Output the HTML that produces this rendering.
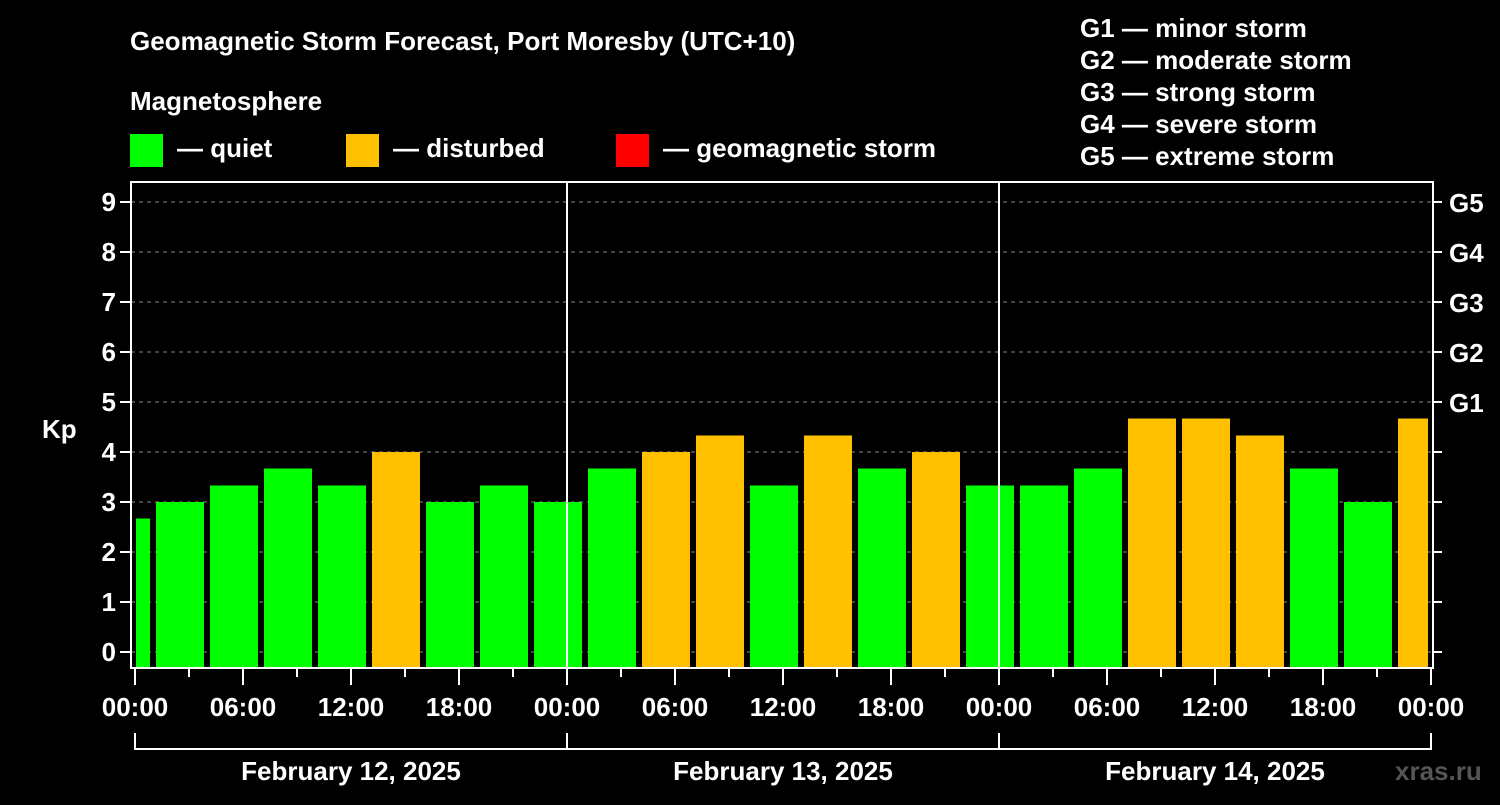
<!DOCTYPE html>
<html><head><meta charset="utf-8"><style>
body{margin:0;background:#000;}
svg text{font-family:"Liberation Sans",Arial,sans-serif;font-weight:bold;fill:#fff;}
</style></head><body>
<svg id="chart" width="1500" height="800" xmlns="http://www.w3.org/2000/svg">
<rect width="1500" height="800" fill="#000"/>
<text x="130" y="50" font-size="26">Geomagnetic Storm Forecast, Port Moresby (UTC+10)</text>
<text x="130" y="110" font-size="26">Magnetosphere</text>
<g>
<rect x="130" y="134" width="33" height="33" fill="#00ff00"/>
<text x="177" y="157" font-size="26">— quiet</text>
<rect x="346" y="134" width="33" height="33" fill="#ffc000"/>
<text x="393" y="157" font-size="26">— disturbed</text>
<rect x="616" y="134" width="33" height="33" fill="#ff0000"/>
<text x="663" y="157" font-size="26">— geomagnetic storm</text>
</g>
<g font-size="26">
<text x="1080" y="37">G1 — minor storm</text>
<text x="1080" y="69">G2 — moderate storm</text>
<text x="1080" y="101">G3 — strong storm</text>
<text x="1080" y="133">G4 — severe storm</text>
<text x="1080" y="165">G5 — extreme storm</text>
</g>
<text x="42" y="438" font-size="26">Kp</text>
<text x="1395" y="780" font-size="26" style="fill:#555">xras.ru</text>
<g id="grid"></g><g id="bars"></g><g id="axes"></g>
</svg>
<script>
const values=[2.67,3,3.33,3.67,3.33,4,3,3.33,3,3.67,4,4.33,3.33,4.33,3.67,4,3.33,3.33,3.67,4.67,4.67,4.33,3.67,3,4.67];
const yTicks=[0,1,2,3,4,5,6,7,8,9];
const gLabels=["G1","G2","G3","G4","G5"];
const xLabels=["00:00","06:00","12:00","18:00","00:00","06:00","12:00","18:00","00:00","06:00","12:00","18:00","00:00"];
const dates=["February 12, 2025","February 13, 2025","February 14, 2025"];
const NS="http://www.w3.org/2000/svg";
const X0=135,PX_H=18,L=131,R=1433,T=182,B=668;
const y=v=>652-v*50, x=h=>X0+h*PX_H;
function mk(tag,attrs,parent){const e=document.createElementNS(NS,tag);for(const k in attrs)e.setAttribute(k,attrs[k]);parent.appendChild(e);return e;}
const grid=document.getElementById('grid'),bars=document.getElementById('bars'),axes=document.getElementById('axes');
yTicks.forEach(v=>{
 const g=mk('line',{x1:L,x2:R,y1:y(v),y2:y(v),stroke:'#888','stroke-dasharray':'4,4','stroke-width':1},grid);
 
 
 const t=mk('line',{x1:120,x2:L,y1:y(v),y2:y(v),stroke:'#fff','stroke-width':2},axes);
 
 
 const l=mk('text',{x:116,y:y(v)+9,'font-size':26,'text-anchor':'end'},axes);l.textContent=v;
 
 
 const rt=mk('line',{x1:R,x2:1442,y1:y(v),y2:y(v),stroke:'#fff','stroke-width':2},axes);
 
 
 if(v>=5){const gl=mk('text',{x:1449,y:y(v)+10,'font-size':26},axes);gl.textContent=gLabels[v-5];
 
 }
});
values.forEach((v,i)=>{
 let s=x(-2+i*3)+3,e=x(1+i*3)-3;
 s=Math.max(s,X0+1);e=Math.min(e,x(72)-3);
 const r=mk('rect',{x:s,y:y(v),width:e-s,height:B-1-y(v),fill:v>=4?'#ffc000':'#00ff00'},bars);
 
 
});
[24,48].forEach(h=>{const l=mk('line',{x1:x(h),x2:x(h),y1:T,y2:B,stroke:'#fff','stroke-width':2},axes);
 
 });
const fr=mk('rect',{x:L,y:T,width:R-L,height:B-T,fill:'none',stroke:'#fff','stroke-width':2},axes);


for(let h=0;h<=72;h+=3){
 const major=h%6===0;
 const t=mk('line',{x1:x(h),x2:x(h),y1:B,y2:major?685:677,stroke:'#fff','stroke-width':2},axes);
 
 
}
xLabels.forEach((s,i)=>{const t=mk('text',{x:x(i*6),y:716,'font-size':26,'text-anchor':'middle'},axes);t.textContent=s;
 
 });
mk('line',{x1:x(0),x2:x(72),y1:749,y2:749,stroke:'#fff','stroke-width':2},axes);
[0,24,48,72].forEach(h=>{const l=mk('line',{x1:x(h),x2:x(h),y1:733,y2:750,stroke:'#fff','stroke-width':2},axes);
 
 });
dates.forEach((d,i)=>{const t=mk('text',{x:x(i*24+12),y:780,'font-size':26,'text-anchor':'middle'},axes);t.textContent=d;
 
 });
</script>
</body></html>
